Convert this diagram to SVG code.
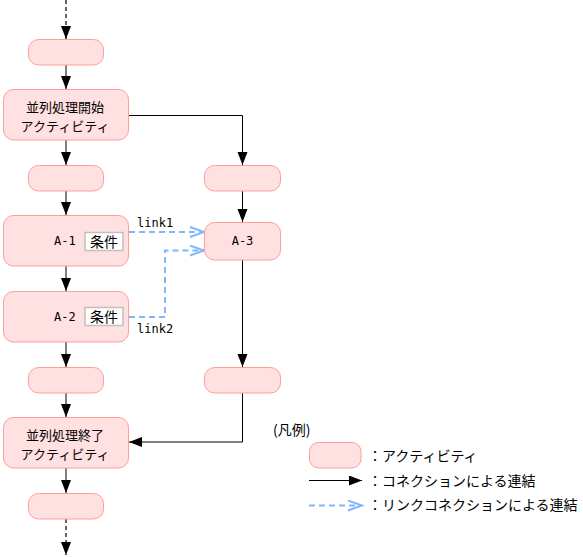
<svg xmlns="http://www.w3.org/2000/svg" width="583" height="557" viewBox="0 0 583 557">
<defs>
<style>
.act{fill:#ffe1e1;stroke:#ff9c9c;stroke-width:1}
.cond{fill:#ffffff;stroke:#c0c0c0;stroke-width:1.5}
.jp{font-family:"Noto Sans CJK JP","Noto Sans",sans-serif;font-size:14px;fill:#000}
.jp2{font-family:"Noto Sans CJK JP","Noto Sans",sans-serif;font-size:13px;fill:#000}
.mono{font-family:"DejaVu Sans Mono","Liberation Mono",monospace;font-size:12px;fill:#000}
.conn{fill:none;stroke:#000;stroke-width:1}
.link{fill:none;stroke:#80b8ff;stroke-width:2;stroke-dasharray:6,4}
.dash{fill:none;stroke:#000;stroke-width:1.2;stroke-dasharray:4,3}
</style>
<marker id="arr" markerUnits="userSpaceOnUse" markerWidth="14" markerHeight="12" refX="13" refY="5" orient="auto">
<path d="M0,0 L13,5 L0,10 z" fill="#000"/>
</marker>
<marker id="open" markerUnits="userSpaceOnUse" markerWidth="18" markerHeight="14" refX="15" refY="6" orient="auto">
<path d="M1,1 L15,6 L1,11" fill="none" stroke="#80b8ff" stroke-width="2"/>
</marker>
</defs>
<rect width="583" height="557" fill="#fff"/>

<g id="connectors">
<line class="dash" x1="66" y1="0" x2="66" y2="39" marker-end="url(#arr)"/>
<line class="conn" x1="66" y1="65" x2="66" y2="89" marker-end="url(#arr)"/>
<line class="conn" x1="66" y1="140" x2="66" y2="165" marker-end="url(#arr)"/>
<polyline class="conn" points="129,115.5 242.5,115.5 242.5,165" marker-end="url(#arr)"/>
<line class="conn" x1="66" y1="191" x2="66" y2="215" marker-end="url(#arr)"/>
<line class="conn" x1="242.5" y1="191" x2="242.5" y2="222" marker-end="url(#arr)"/>
<line class="conn" x1="66" y1="266" x2="66" y2="291" marker-end="url(#arr)"/>
<line class="conn" x1="66" y1="342" x2="66" y2="367" marker-end="url(#arr)"/>
<line class="conn" x1="242.5" y1="260" x2="242.5" y2="367" marker-end="url(#arr)"/>
<line class="conn" x1="66" y1="393" x2="66" y2="417" marker-end="url(#arr)"/>
<polyline class="conn" points="242.5,393 242.5,442 129,442" marker-end="url(#arr)"/>
<line class="conn" x1="66" y1="468" x2="66" y2="493" marker-end="url(#arr)"/>
<line class="dash" x1="66" y1="519" x2="66" y2="555" marker-end="url(#arr)"/>
<polyline class="link" points="129,232 204,232" marker-end="url(#open)"/>
<polyline class="link" points="129,317 165,317 165,250.5 204,250.5" marker-end="url(#open)"/>
<text class="mono" x="137" y="227">link1</text>
<text class="mono" x="137" y="333">link2</text>
</g>

<g id="n1"><rect class="act" x="28.5" y="39.5" width="75" height="25.5" rx="10"/></g>
<g id="start"><rect class="act" x="3.5" y="89.5" width="125" height="50.5" rx="10"/>
<text class="jp2" text-anchor="middle"><tspan x="65" y="111.5">並列処理開始</tspan><tspan x="65" y="130.5">アクティビティ</tspan></text></g>
<g id="n3"><rect class="act" x="28.5" y="165.5" width="75" height="25.5" rx="10"/></g>
<g id="r1"><rect class="act" x="204.5" y="165.5" width="76" height="25.5" rx="10"/></g>
<g id="a1"><rect class="act" x="3.5" y="215.5" width="125" height="50.5" rx="10"/>
<text class="mono" x="54" y="245">A-1</text>
<rect class="cond" x="85" y="232.5" width="38" height="18"/>
<text class="jp" x="90" y="247">条件</text></g>
<g id="a3"><rect class="act" x="204.5" y="222.5" width="76" height="37.5" rx="10"/>
<text class="mono" x="242.5" y="245" text-anchor="middle">A-3</text></g>
<g id="a2"><rect class="act" x="3.5" y="291.5" width="125" height="50.5" rx="10"/>
<text class="mono" x="54" y="321">A-2</text>
<rect class="cond" x="85" y="307.5" width="38" height="18"/>
<text class="jp" x="90" y="322">条件</text></g>
<g id="n5"><rect class="act" x="28.5" y="367.5" width="75" height="25.5" rx="10"/></g>
<g id="r2"><rect class="act" x="204.5" y="367.5" width="76" height="25.5" rx="10"/></g>
<g id="end"><rect class="act" x="3.5" y="417.5" width="125" height="50.5" rx="10"/>
<text class="jp2" text-anchor="middle"><tspan x="65" y="439.5">並列処理終了</tspan><tspan x="65" y="458.5">アクティビティ</tspan></text></g>
<g id="n7"><rect class="act" x="28.5" y="493.5" width="75" height="25.5" rx="10"/></g>

<g id="legend">
<text class="jp" x="273" y="435">(凡例)</text>
<rect class="act" x="309.5" y="442.5" width="51.5" height="25.5" rx="9"/>
<text class="jp" x="368" y="461">：アクティビティ</text>
<line class="conn" x1="309" y1="480.5" x2="362" y2="480.5" marker-end="url(#arr)"/>
<text class="jp" x="368" y="486">：コネクションによる連結</text>
<line class="link" x1="309" y1="505.5" x2="362" y2="505.5" marker-end="url(#open)"/>
<text class="jp" x="368" y="510">：リンクコネクションによる連結</text>
</g>
</svg>
